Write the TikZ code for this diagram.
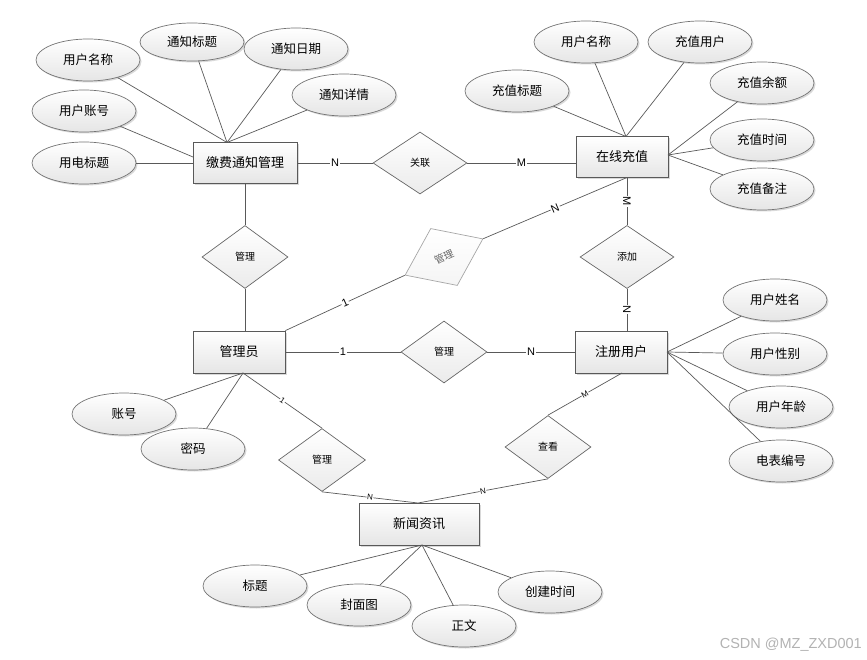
\documentclass[tikz,border=0pt]{standalone}
\usepackage{fontspec}
\newfontfamily\cjk{Noto Sans CJK SC}
\setsansfont{Liberation Sans}
\usetikzlibrary{shapes.geometric,shadows,calc}
\tikzset{
  shd/.style={drop shadow={shadow xshift=1.5pt, shadow yshift=-1.5pt, opacity=0.25, fill=black!60}},
  ent/.style={rectangle, draw=black!65, line width=0.8pt, top color=white, bottom color=black!10, shd,
    minimum width=92pt, minimum height=41pt, inner sep=0pt, font=\cjk\fontsize{13}{13}\selectfont},
  attr/.style={ellipse, draw=black!55, line width=0.7pt, top color=white, bottom color=black!10, shd,
    minimum width=104pt, minimum height=42pt, inner sep=0pt, font=\cjk\fontsize{12.5}{12.5}\selectfont},
  rel/.style={diamond, draw=black!60, line width=0.7pt, top color=white, bottom color=black!8,
    minimum width=86pt, minimum height=63pt, inner sep=0pt, font=\cjk\fontsize{10}{10}\selectfont},
  relfaint/.style={rel, draw=black!35, top color=white, bottom color=black!4, text=black!60},
  conn/.style={draw=black!65, line width=0.7pt},
  lbl/.style={fill=white, inner sep=0.8pt, font=\sffamily\fontsize{11}{11}\selectfont},
  lbls/.style={fill=white, inner sep=0.5pt, font=\sffamily\fontsize{8}{8}\selectfont},
}
\begin{document}
\begin{tikzpicture}[x=1pt,y=-1pt]
\useasboundingbox (0,0) rectangle (867,660);

% ---------- entities ----------
\node[ent, minimum width=104pt] (jf) at (245,163) {缴费通知管理};
\node[ent] (zx) at (622,157) {在线充值};
\node[ent, minimum height=42pt] (gly) at (239,352) {管理员};
\node[ent, minimum height=42pt] (zc) at (621,352) {注册用户};
\node[ent, minimum width=120pt, minimum height=42pt] (xw) at (419,524) {新闻资讯};

% ---------- relationships ----------
\node[rel, minimum width=94pt, minimum height=62pt] (gl) at (420,163) {关联};
\node[rel] (gl1) at (245,257) {管理};
\node[relfaint, rotate=25] (gl2) at (444,257) {管理};
\node[rel, minimum width=94pt] (tj) at (627,257) {添加};
\node[rel, minimum height=62pt] (gl3) at (444,352) {管理};
\node[rel, minimum width=87pt] (gl4) at (322,460) {管理};
\node[rel] (ck) at (548,447) {查看};

% ---------- attributes ----------
\node[attr] (a1) at (88,60) {用户名称};
\node[attr, minimum height=38pt] (a2) at (192,42) {通知标题};
\node[attr] (a3) at (296,49) {通知日期};
\node[attr] (a4) at (344,95) {通知详情};
\node[attr] (a5) at (84,111) {用户账号};
\node[attr] (a6) at (84,163) {用电标题};

\node[attr] (b1) at (586,42) {用户名称};
\node[attr] (b2) at (700,42) {充值用户};
\node[attr] (b3) at (517,91) {充值标题};
\node[attr] (b4) at (762,83) {充值余额};
\node[attr] (b5) at (762,140) {充值时间};
\node[attr] (b6) at (762,189) {充值备注};

\node[attr] (c1) at (775,300) {用户姓名};
\node[attr] (c2) at (775,354) {用户性别};
\node[attr] (c3) at (781,407) {用户年龄};
\node[attr] (c4) at (781,461) {电表编号};

\node[attr] (d1) at (124,414) {账号};
\node[attr] (d2) at (193,449) {密码};

\node[attr] (e1) at (255,586) {标题};
\node[attr] (e2) at (359,605) {封面图};
\node[attr] (e3) at (464,626) {正文};
\node[attr] (e4) at (550,592) {创建时间};

% ---------- junction points ----------
\coordinate (jfT) at (227,142.5);
\coordinate (jfL) at (193,157);
\coordinate (zxT) at (626,136.5);
\coordinate (zxR) at (668,155);
\coordinate (zxB) at (627,177.5);
\coordinate (zcR) at (667,352);
\coordinate (zcB) at (622,373);
\coordinate (glyB) at (243,373);
\coordinate (xwT) at (418,503);
\coordinate (xwB) at (422,545);

% ---------- attribute connectors ----------
\draw[conn] (a1) -- (jfT);
\draw[conn] (a2) -- (jfT);
\draw[conn] (a3) -- (jfT);
\draw[conn] (a4) -- (jfT);
\draw[conn] (a5) -- (jfL);
\draw[conn] (a6) -- (jf);

\draw[conn] (b1) -- (zxT);
\draw[conn] (b2) -- (zxT);
\draw[conn] (b3) -- (zxT);
\draw[conn] (b4) -- (zxR);
\draw[conn] (b5) -- (zxR);
\draw[conn] (b6) -- (zxR);

\draw[conn] (c1) -- (zcR);
\draw[conn] (c2) -- (zcR);
\draw[conn] (c3) -- (zcR);
\draw[conn] (c4) -- (zcR);

\draw[conn] (d1) -- (glyB);
\draw[conn] (d2) -- (glyB);

\draw[conn] (e1) -- (xwB);
\draw[conn] (e2) -- (xwB);
\draw[conn] (e3) -- (xwB);
\draw[conn] (e4) -- (xwB);

% ---------- relationship connectors ----------
\draw[conn] (jf) -- node[lbl]{N} (gl);
\draw[conn] (gl.east) -- node[lbl]{M} (gl.east -| zx.west);

\draw[conn] (jf.south) -- (gl1.north);
\draw[conn] (gl1.south) -- (gl1.south |- gly.north);

\draw[conn] (zxB) -- node[lbl, rotate=-90]{M} (tj.north);
\draw[conn] (tj.south) -- node[lbl, rotate=-90]{N} (tj.south |- zc.north);

\draw[conn] (zxB) -- node[lbl, sloped]{N} (gl2.east);
\draw[conn] (gl2.west) -- node[lbl, sloped]{1} (gly.north east);

\draw[conn] (gly) -- node[lbl]{1} (gl3);
\draw[conn] (gl3) -- node[lbl]{N} (zc);

\draw[conn] (zcB) -- node[lbls, sloped]{M} (ck.north);
\draw[conn] (ck.south) -- node[lbls, sloped]{N} (xwT);

\draw[conn] (glyB) -- node[lbls, sloped]{1} (gl4.north);
\draw[conn] (gl4.south) -- node[lbls, sloped]{N} (xwT);

% ---------- watermark ----------
\node[anchor=east, text=black!30, font=\sffamily\fontsize{14.5}{14.5}\selectfont, inner sep=0pt] (wm) at (862,645) {CSDN @MZ\_ZXD001};
\end{tikzpicture}
\end{document}
